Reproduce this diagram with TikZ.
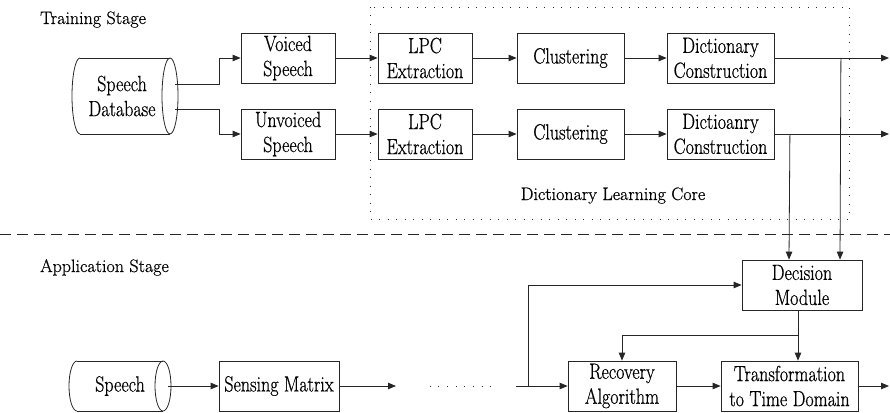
\documentclass[tikz,border=0pt]{standalone}
\usepackage{fontspec}
\newfontfamily\diagfont{Latin Modern Roman}[FakeBold=0.6]
\newfontfamily\boxfont{Latin Modern Roman}[FakeBold=0.6, FakeStretch=0.82]
\usetikzlibrary{arrows.meta,calc}

\tikzset{
  ln/.style={draw=black!85, line width=0.8pt},
  arr/.style={ln, -{Triangle[length=8pt,width=6.5pt]}},
  boxtext/.style={font=\boxfont\fontsize{22}{25}\selectfont, inner sep=0pt, align=center},
  stepbox/.style={ln, rectangle, boxtext, minimum height=50pt},
  lbl/.style={font=\diagfont\fontsize{18}{25}\selectfont, inner sep=0pt, align=center},
}

\begin{document}
\begin{tikzpicture}[x=1pt, y=-1pt]
\useasboundingbox (0,0) rectangle (890,412);

% stage labels
\node[lbl, anchor=base west] (trainlbl) at (40,24) {Training Stage};
\node[lbl, anchor=base west] (applbl) at (40,272) {Application Stage};

% dictionary learning core frame
\draw[black!85, line width=0.9pt, dash pattern=on 0.9pt off 7.6pt] (370,7) rectangle (849,219);
\node[lbl, anchor=base] (corelbl) at (613,200) {Dictionary Learning Core};

% stage separator
\draw[ln, dash pattern=on 11pt off 6pt] (0,234) -- (890,234);

% speech database (cylinder)
\draw[ln] (80,58) -- (170,58) (80,134) -- (170,134);
\draw[ln] (80,58) arc[start angle=270, end angle=90, x radius=8, y radius=38];
\draw[ln] (170,96) ellipse[x radius=8, y radius=38];
\node[boxtext] (db) at (122,96) {Speech\\Database};
\coordinate (dbA) at (175,84);
\coordinate (dbB) at (175,109);

% training rows
\node[stepbox, minimum width=94pt] (voiced) at (288,58) {Voiced\\Speech};
\node[stepbox, minimum width=94pt] (unvoiced) at (288,134) {Unvoiced\\Speech};
\node[stepbox, minimum width=94pt] (lpcA) at (425,58) {LPC\\Extraction};
\node[stepbox, minimum width=94pt] (lpcB) at (425,134) {LPC\\Extraction};
\node[stepbox, minimum width=107pt] (clusA) at (570.5,58) {Clustering};
\node[stepbox, minimum width=107pt] (clusB) at (570.5,134) {Clustering};
\node[stepbox, minimum width=107pt] (dictA) at (720.5,58) {Dictionary\\Construction};
\node[stepbox, minimum width=107pt] (dictB) at (720.5,134) {Dictioanry\\Construction};
\coordinate (outA) at (889,58);
\coordinate (outB) at (889,134);

\draw[arr] (dbA) -- ++(44,0) |- (voiced.west);
\draw[arr] (dbB) -- ++(44,0) |- (unvoiced.west);
\draw[arr] (voiced) -- (lpcA);
\draw[arr] (unvoiced) -- (lpcB);
\draw[arr] (lpcA) -- (clusA);
\draw[arr] (lpcB) -- (clusB);
\draw[arr] (clusA) -- (dictA);
\draw[arr] (clusB) -- (dictB);
\draw[arr] (dictA) -- (outA);
\draw[arr] (dictB) -- (outB);

% application stage
\node[stepbox, minimum width=120pt] (decision) at (802,285) {Decision\\Module};
\node[stepbox, minimum width=108pt] (recovery) at (622,386) {Recovery\\Algorithm};
\node[stepbox, minimum width=137pt] (transform) at (789.5,386) {Transformation\\to Time Domain};
\node[stepbox, minimum width=120pt] (sensing) at (279,386) {Sensing Matrix};

% dictionaries feed the decision module
\draw[arr] ($(dictA.east)+(66.5,0)$) -- ($(decision.north)+(38,0)$);
\draw[arr] ($(dictB.east)+(15.5,0)$) -- ($(decision.north)+(-13,0)$);

% speech (cylinder)
\draw[ln] (77,361) -- (163,361) (77,411) -- (163,411);
\draw[ln] (77,361) arc[start angle=270, end angle=90, x radius=8, y radius=25];
\draw[ln] (163,386) ellipse[x radius=8, y radius=25];
\node[boxtext] (speech) at (120,386) {Speech};
\coordinate (spA) at (168,386);

\coordinate (smOut) at (396,386);
\coordinate (gapIn) at (516,386);
\coordinate (branch) at (528,386);
\draw[arr] (spA) -- (sensing);
\draw[arr] (sensing) -- (smOut);
\draw[black!85, line width=1pt, dash pattern=on 1pt off 7.7pt] (429.5,386) -- (492,386);
\draw[arr] (gapIn) -- (recovery);
\draw[arr] (branch) |- (decision.west);
\draw[arr] (recovery) -- (transform);
\draw[arr] (transform) -- (889,386);

% decision module output splits to both blocks
\coordinate (split) at (798,335);
\draw[ln] (decision.south -| split) -- (split);
\draw[arr] (split) -| (recovery.north);
\draw[arr] (split) -- (transform.north -| split);
\end{tikzpicture}
\end{document}
